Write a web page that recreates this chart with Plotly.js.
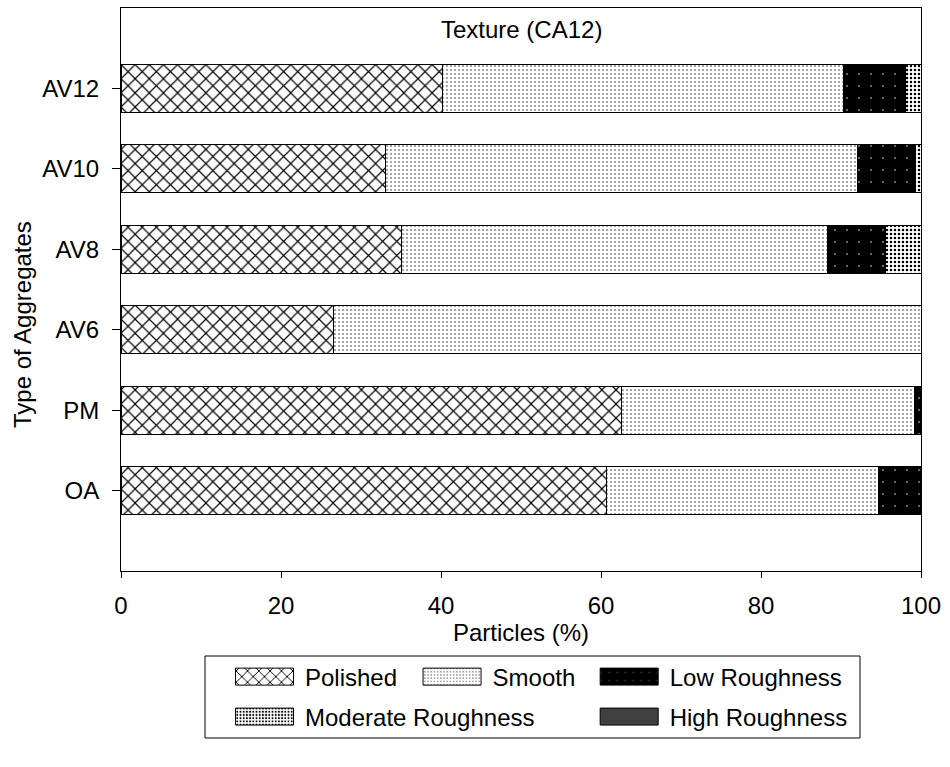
<!DOCTYPE html>
<html>
<head>
<meta charset="utf-8">
<script src="https://cdn.plot.ly/plotly-3.0.1.min.js"></script>
<style>
  html, body { margin: 0; padding: 0; background: #fff; }
  #chart { width: 950px; height: 767px; }
</style>
</head>
<body>
<div id="chart"></div>
<script>
// Aggregate types, bottom to top
const categories = ['OA', 'PM', 'AV6', 'AV8', 'AV10', 'AV12'];

// Share of particles (%) in each texture class
const polished          = [60.7, 62.5, 26.6, 35.1, 33.0, 40.2];
const smooth            = [34.0, 36.7, 73.4, 53.2, 59.0, 50.1];
const lowRoughness      = [5.3, 0.8, 0.0, 7.3, 7.3, 7.8];
const moderateRoughness = [0.0, 0.0, 0.0, 4.4, 0.7, 1.9];
const highRoughness     = [0.0, 0.0, 0.0, 0.0, 0.0, 0.0];

const xTicks = [0, 20, 40, 60, 80, 100];

const FONT = 'Liberation Sans, Arial, sans-serif';
const FS = 24;
const outline = { color: '#000', width: 1 };

function barTrace(name, values, pattern, color, legend) {
  return {
    type: 'bar',
    orientation: 'h',
    name: name,
    x: values,
    y: categories,
    width: 0.6,
    legend: legend,
    marker: { color: color, line: outline, pattern: pattern },
    hoverinfo: 'name+x'
  };
}

const traces = [
  barTrace('Polished', polished,
    { shape: 'x', size: 10, solidity: 0.22, fgcolor: '#000', bgcolor: '#fff', fillmode: 'replace' }, '#fff', 'legend'),
  barTrace('Smooth', smooth,
    { shape: '.', size: 4, solidity: 0.13, fgcolor: '#333', bgcolor: '#fff', fillmode: 'replace' }, '#fff', 'legend2'),
  barTrace('Low Roughness', lowRoughness,
    { shape: '.', size: 12, solidity: 0.012, fgcolor: '#fff', bgcolor: '#000', fillmode: 'replace' }, '#000', 'legend3'),
  barTrace('Moderate Roughness', moderateRoughness,
    { shape: '.', size: 4, solidity: 0.32, fgcolor: '#000', bgcolor: '#fff', fillmode: 'replace' }, '#fff', 'legend4'),
  barTrace('High Roughness', highRoughness, undefined, '#404040', 'legend5')
];

// One legend box per entry so the entries sit on a two-row grid
function legendAt(x, y) {
  return {
    x: x, y: y,
    xanchor: 'left',
    yanchor: 'middle',
    orientation: 'h',
    bgcolor: 'rgba(0,0,0,0)',
    borderwidth: 0,
    font: { family: FONT, size: FS, color: '#000' },
    itemwidth: 71,
    itemclick: false,
    itemdoubleclick: false
  };
}

const col1 = 0.12875, col2 = 0.3632, col3 = 0.5846;
const row1 = -0.1883, row2 = -0.2593;

const layout = {
  width: 950,
  height: 767,
  margin: { l: 121, r: 29, t: 8, b: 196 },
  paper_bgcolor: '#fff',
  plot_bgcolor: '#fff',
  font: { family: FONT, size: FS, color: '#000' },
  barmode: 'stack',
  xaxis: {
    range: [0, 100],
    tickvals: xTicks,
    ticks: 'outside',
    ticklen: 6,
    tickcolor: '#000',
    ticklabelstandoff: 7,
    showline: true,
    mirror: true,
    linecolor: '#000',
    linewidth: 1,
    showgrid: false,
    zeroline: false,
    tickfont: { family: FONT, size: FS },
    title: { text: 'Particles (%)', font: { family: FONT, size: FS }, standoff: 6 }
  },
  yaxis: {
    type: 'category',
    categoryorder: 'array',
    categoryarray: categories,
    range: [-1, 6],
    ticks: 'outside',
    ticklen: 8,
    tickcolor: '#000',
    ticklabelstandoff: 8,
    showline: true,
    mirror: true,
    linecolor: '#000',
    linewidth: 1,
    showgrid: false,
    zeroline: false,
    tickfont: { family: FONT, size: FS }
  },
  showlegend: true,
  legend: legendAt(col1, row1),
  legend2: legendAt(col2, row1),
  legend3: legendAt(col3, row1),
  legend4: legendAt(col1, row2),
  legend5: legendAt(col3, row2),
  annotations: [{
    xref: 'paper', yref: 'paper',
    x: 0.5, y: 0.961,
    xanchor: 'center', yanchor: 'middle',
    text: 'Texture (CA12)',
    showarrow: false,
    font: { family: FONT, size: FS, color: '#000' }
  }, {
    // y-axis title, set a little below the plot's vertical centre
    xref: 'paper', yref: 'paper',
    x: -0.1225, y: 0.437,
    xanchor: 'center', yanchor: 'middle',
    textangle: -90,
    text: 'Type of Aggregates',
    showarrow: false,
    font: { family: FONT, size: FS, color: '#000' }
  }],
  shapes: [{
    type: 'rect',
    xref: 'paper', yref: 'paper',
    x0: 0.105, x1: 0.92375,
    y0: -0.2966, y1: -0.151,
    line: { color: '#000', width: 1 },
    fillcolor: 'rgba(0,0,0,0)'
  }]
};

// Wider rectangular swatches in the legend boxes
function widenSwatches() {
  document.querySelectorAll('#chart .legendpoints path').forEach(function (p) {
    p.setAttribute('d', 'M29,8.5H-29V-8.5H29Z');
    p.style.strokeWidth = '1px';
    p.style.stroke = '#000';
  });
}

Plotly.newPlot('chart', traces, layout, { displayModeBar: false, staticPlot: true })
  .then(widenSwatches);
</script>
</body>
</html>
